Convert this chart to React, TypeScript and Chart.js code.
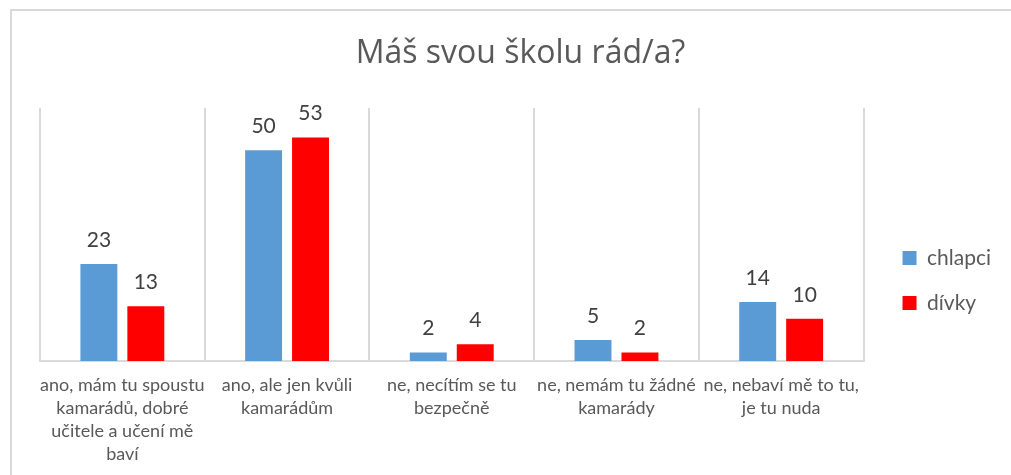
import React, { useEffect, useRef } from "react";
import { Chart, registerables } from "chart.js";

Chart.register(...registerables);

const title = "Máš svou školu rád/a?";
const categories: string[][] = [
  ["ano, mám tu spoustu", "kamarádů, dobré", "učitele a učení mě", "baví"],
  ["ano, ale jen kvůli", "kamarádům"],
  ["ne, necítím se tu", "bezpečně"],
  ["ne, nemám tu žádné", "kamarády"],
  ["ne, nebaví mě to tu,", "je tu nuda"],
];
const seriesNames = ["chlapci", "dívky"];
const chlapci = [23, 50, 2, 5, 14];
const divky = [13, 53, 4, 2, 10];
const yMax = 60;

const FONT = "Lato";
const W = 999;
const H = 464;

const valueLabels = {
  id: "valueLabels",
  afterDatasetsDraw(chart: any) {
    const ctx = chart.ctx;
    ctx.save();
    ctx.font = `21px ${FONT}`;
    ctx.fillStyle = "#404040";
    ctx.textAlign = "center";
    ctx.textBaseline = "middle";
    chart.data.datasets.forEach((ds: any, i: number) => {
      chart.getDatasetMeta(i).data.forEach((bar: any, j: number) => {
        ctx.fillText(String(ds.data[j]), bar.x, bar.y - 24);
      });
    });
    ctx.restore();
  },
};

export default function App() {
  const ref = useRef<HTMLCanvasElement | null>(null);
  useEffect(() => {
    if (!ref.current) return;
    const chart = new Chart(ref.current, {
      type: "bar",
      data: {
        labels: categories,
        datasets: [
          {
            label: seriesNames[0],
            data: chlapci,
            backgroundColor: "#5B9BD5",
            borderWidth: 0,
            categoryPercentage: 0.57,
            barPercentage: 0.787,
          },
          {
            label: seriesNames[1],
            data: divky,
            backgroundColor: "#FF0000",
            borderWidth: 0,
            categoryPercentage: 0.57,
            barPercentage: 0.787,
          },
        ],
      },
      options: {
        responsive: false,
        animation: false,
        layout: { padding: { left: 28, right: 10, top: 0, bottom: 0 } },
        plugins: {
          tooltip: { enabled: false },
          title: {
            display: true,
            text: title,
            color: "#595959",
            font: { family: "Open Sans", size: 32, weight: "normal", lineHeight: 1.2 },
            padding: { top: 24, bottom: 34.6 },
          },
          legend: {
            display: true,
            position: "right",
            align: "center",
            title: {
              display: true,
              text: " ",
              color: "rgba(0,0,0,0)",
              font: { family: FONT, size: 10 },
              padding: { top: 63, bottom: 0 },
            },
            labels: {
              color: "#595959",
              font: { family: FONT, size: 21 },
              boxWidth: 14,
              boxHeight: 14,
              padding: 24,
            },
          },
        },
        scales: {
          x: {
            offset: true,
            grid: {
              display: true,
              color: "#d9d9d9",
              lineWidth: 2,
              drawTicks: false,
              offset: true,
            },
            border: { display: true, color: "#d9d9d9", width: 2 },
            ticks: {
              color: "#595959",
              font: { family: FONT, size: 18, lineHeight: 1.28 },
              padding: 13,
              maxRotation: 0,
              minRotation: 0,
              autoSkip: false,
            },
            afterFit: (scale: any) => {
              scale.height = 114;
            },
          },
          y: {
            position: "right",
            min: 0,
            max: yMax,
            display: true,
            grid: { display: false },
            border: { display: false },
            ticks: { display: false },
            afterFit: (scale: any) => {
              scale.width = 15;
            },
          },
        },
      },
      plugins: [valueLabels],
    });
    return () => chart.destroy();
  }, []);

  return (
    <div
      style={{
        position: "absolute",
        left: 10,
        top: 9,
        width: 1001,
        height: 466,
        boxSizing: "border-box",
        borderTop: "2px solid #d9d9d9",
        borderLeft: "2px solid #d9d9d9",
        background: "#fff",
        overflow: "hidden",
      }}
    >
      <canvas ref={ref} width={W} height={H} style={{ display: "block", width: W, height: H }} />
    </div>
  );
}
